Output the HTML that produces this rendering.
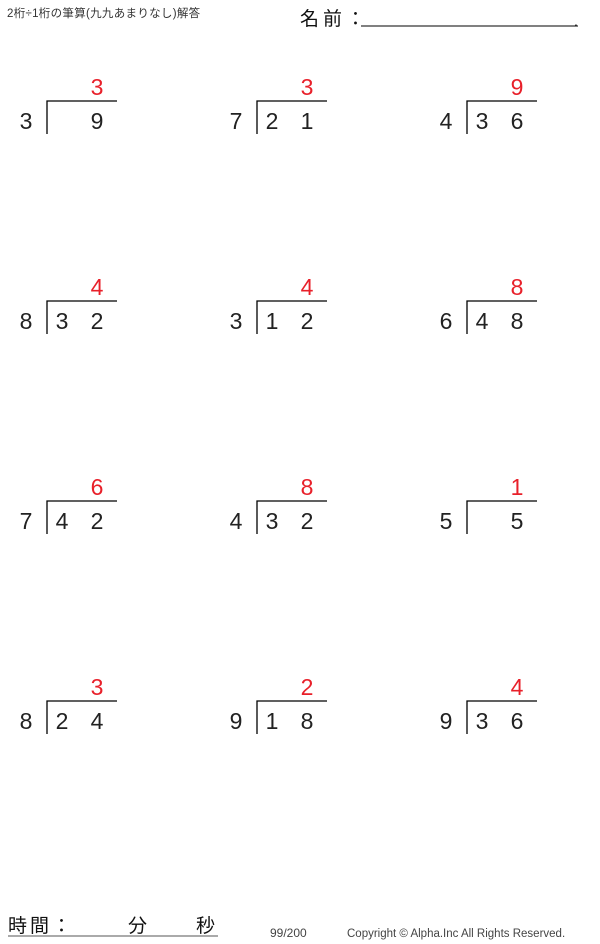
<!DOCTYPE html>
<html><head><meta charset="utf-8"><style>
body{margin:0;background:#fff;}
svg{display:block;font-family:"Liberation Sans","Noto Sans CJK JP",sans-serif;}
</style></head><body>
<svg width="600" height="944" viewBox="0 0 600 944" xmlns="http://www.w3.org/2000/svg">
<text x="7" y="17" font-size="11.5" fill="#333" letter-spacing="0.3">2桁÷1桁の筆算(九九あまりなし)解答</text>
<text x="300" y="25" font-size="19" fill="#111" letter-spacing="4">名前：</text>
<line x1="361" y1="26" x2="578" y2="26" stroke="#000" stroke-width="1"/>
<text x="574" y="26" font-size="14" fill="#000">.</text>
<g stroke="#000" stroke-width="1.3" fill="none">
<path d="M47 134V101H117M257 134V101H327M467 134V101H537"/>
<path d="M47 334V301H117M257 334V301H327M467 334V301H537"/>
<path d="M47 534V501H117M257 534V501H327M467 534V501H537"/>
<path d="M47 734V701H117M257 734V701H327M467 734V701H537"/>
</g>
<g font-size="23" text-anchor="middle" fill="#222">
<text x="26" y="129">3</text><text x="97" y="129">9</text>
<text x="236" y="129">7</text><text x="272" y="129">2</text><text x="307" y="129">1</text>
<text x="446" y="129">4</text><text x="482" y="129">3</text><text x="517" y="129">6</text>

<text x="26" y="329">8</text><text x="62" y="329">3</text><text x="97" y="329">2</text>
<text x="236" y="329">3</text><text x="272" y="329">1</text><text x="307" y="329">2</text>
<text x="446" y="329">6</text><text x="482" y="329">4</text><text x="517" y="329">8</text>

<text x="26" y="529">7</text><text x="62" y="529">4</text><text x="97" y="529">2</text>
<text x="236" y="529">4</text><text x="272" y="529">3</text><text x="307" y="529">2</text>
<text x="446" y="529">5</text><text x="517" y="529">5</text>

<text x="26" y="729">8</text><text x="62" y="729">2</text><text x="97" y="729">4</text>
<text x="236" y="729">9</text><text x="272" y="729">1</text><text x="307" y="729">8</text>
<text x="446" y="729">9</text><text x="482" y="729">3</text><text x="517" y="729">6</text>
</g>
<g font-size="23" text-anchor="middle" fill="#e8202a">
<text x="97" y="95">3</text><text x="307" y="95">3</text><text x="517" y="95">9</text>
<text x="97" y="295">4</text><text x="307" y="295">4</text><text x="517" y="295">8</text>
<text x="97" y="495">6</text><text x="307" y="495">8</text><text x="517" y="495">1</text>
<text x="97" y="695">3</text><text x="307" y="695">2</text><text x="517" y="695">4</text>
</g>
<text x="8" y="932" font-size="19" fill="#111" letter-spacing="3">時間：</text>
<text x="128" y="932" font-size="19" fill="#111">分</text>
<text x="196" y="932" font-size="19" fill="#111">秒</text>
<line x1="8" y1="936" x2="218" y2="936" stroke="#555" stroke-width="1"/>
<text x="270" y="937" font-size="12" fill="#444">99/200</text>
<text x="347" y="937" font-size="11.5" fill="#444">Copyright © Alpha.Inc All Rights Reserved.</text>
</svg>
</body></html>
